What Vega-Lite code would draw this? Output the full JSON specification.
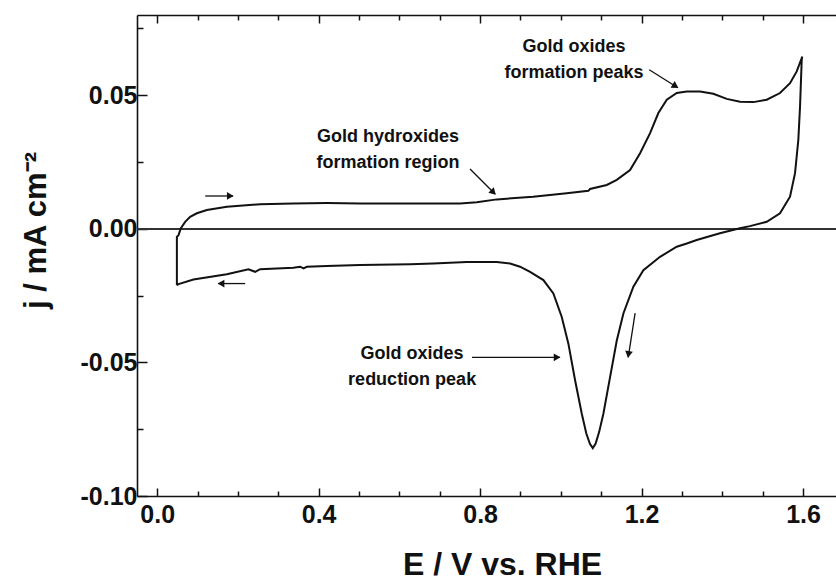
{
  "$schema": "https://vega.github.io/schema/vega-lite/v6.json",
  "autosize": "none",
  "width": 699,
  "height": 481,
  "padding": {"left": 137, "top": 15, "right": 0, "bottom": 85},
  "background": "white",
  "config": {
    "view": {"stroke": null},
    "font": "Liberation Sans",
    "axis": {
      "domainColor": "#111",
      "domainWidth": 1.6,
      "tickColor": "#111",
      "tickWidth": 1.5,
      "grid": false,
      "labelFont": "Liberation Sans",
      "labelFontWeight": "bold",
      "labelFontSize": 25,
      "labelColor": "#111",
      "titleFont": "Liberation Sans",
      "titleFontWeight": "bold",
      "titleColor": "#111",
      "labelFlush": false,
      "labelOverlap": false,
      "labelBound": false
    }
  },
  "datasets": {
    "cv": [
      {"i": 1, "E": 0.0488, "j": -0.0211},
      {"i": 2, "E": 0.0488, "j": -0.0030},
      {"i": 3, "E": 0.0528, "j": -0.0024},
      {"i": 4, "E": 0.0587, "j": 0.0002},
      {"i": 5, "E": 0.0693, "j": 0.0026},
      {"i": 6, "E": 0.0817, "j": 0.0045},
      {"i": 7, "E": 0.0983, "j": 0.0058},
      {"i": 8, "E": 0.1231, "j": 0.0070},
      {"i": 9, "E": 0.1726, "j": 0.0082},
      {"i": 10, "E": 0.2551, "j": 0.0092},
      {"i": 11, "E": 0.3376, "j": 0.0095},
      {"i": 12, "E": 0.4203, "j": 0.0096},
      {"i": 13, "E": 0.5028, "j": 0.0095},
      {"i": 14, "E": 0.6267, "j": 0.0095},
      {"i": 15, "E": 0.6836, "j": 0.0095},
      {"i": 16, "E": 0.7505, "j": 0.0095},
      {"i": 17, "E": 0.7918, "j": 0.0099},
      {"i": 18, "E": 0.8414, "j": 0.0110},
      {"i": 19, "E": 0.9313, "j": 0.0120},
      {"i": 20, "E": 1.0147, "j": 0.0133},
      {"i": 21, "E": 1.0682, "j": 0.0142},
      {"i": 22, "E": 1.0724, "j": 0.0149},
      {"i": 23, "E": 1.1138, "j": 0.0164},
      {"i": 24, "E": 1.1386, "j": 0.0183},
      {"i": 25, "E": 1.1715, "j": 0.0220},
      {"i": 26, "E": 1.1963, "j": 0.0283},
      {"i": 27, "E": 1.2211, "j": 0.0358},
      {"i": 28, "E": 1.2416, "j": 0.0433},
      {"i": 29, "E": 1.2625, "j": 0.0483},
      {"i": 30, "E": 1.2872, "j": 0.0508},
      {"i": 31, "E": 1.3120, "j": 0.0514},
      {"i": 32, "E": 1.3449, "j": 0.0514},
      {"i": 33, "E": 1.3778, "j": 0.0505},
      {"i": 34, "E": 1.4110, "j": 0.0486},
      {"i": 35, "E": 1.4440, "j": 0.0475},
      {"i": 36, "E": 1.4769, "j": 0.0474},
      {"i": 37, "E": 1.5101, "j": 0.0483},
      {"i": 38, "E": 1.5430, "j": 0.0508},
      {"i": 39, "E": 1.5678, "j": 0.0545},
      {"i": 40, "E": 1.5844, "j": 0.0589},
      {"i": 41, "E": 1.5968, "j": 0.0639},
      {"i": 42, "E": 1.5980, "j": 0.0644},
      {"i": 43, "E": 1.5968, "j": 0.0633},
      {"i": 44, "E": 1.5926, "j": 0.0457},
      {"i": 45, "E": 1.5884, "j": 0.0333},
      {"i": 46, "E": 1.5802, "j": 0.0208},
      {"i": 47, "E": 1.5678, "j": 0.0120},
      {"i": 48, "E": 1.5430, "j": 0.0058},
      {"i": 49, "E": 1.5101, "j": 0.0026},
      {"i": 50, "E": 1.4684, "j": 0.0010},
      {"i": 51, "E": 1.4436, "j": 0.0002},
      {"i": 52, "E": 1.3941, "j": -0.0017},
      {"i": 53, "E": 1.3367, "j": -0.0042},
      {"i": 54, "E": 1.3120, "j": -0.0055},
      {"i": 55, "E": 1.2872, "j": -0.0067},
      {"i": 56, "E": 1.2458, "j": -0.0105},
      {"i": 57, "E": 1.2045, "j": -0.0155},
      {"i": 58, "E": 1.1797, "j": -0.0217},
      {"i": 59, "E": 1.1550, "j": -0.0317},
      {"i": 60, "E": 1.1386, "j": -0.0418},
      {"i": 61, "E": 1.1220, "j": -0.0555},
      {"i": 62, "E": 1.1054, "j": -0.0692},
      {"i": 63, "E": 1.0950, "j": -0.0760},
      {"i": 64, "E": 1.0860, "j": -0.0805},
      {"i": 65, "E": 1.0791, "j": -0.0821},
      {"i": 66, "E": 1.0720, "j": -0.0805},
      {"i": 67, "E": 1.0630, "j": -0.0765},
      {"i": 68, "E": 1.0519, "j": -0.0692},
      {"i": 69, "E": 1.0353, "j": -0.0567},
      {"i": 70, "E": 1.0187, "j": -0.0430},
      {"i": 71, "E": 1.0023, "j": -0.0330},
      {"i": 72, "E": 0.9815, "j": -0.0242},
      {"i": 73, "E": 0.9568, "j": -0.0192},
      {"i": 74, "E": 0.9238, "j": -0.0161},
      {"i": 75, "E": 0.8990, "j": -0.0142},
      {"i": 76, "E": 0.8743, "j": -0.0130},
      {"i": 77, "E": 0.8414, "j": -0.0124},
      {"i": 78, "E": 0.7671, "j": -0.0124},
      {"i": 79, "E": 0.6836, "j": -0.0130},
      {"i": 80, "E": 0.6267, "j": -0.0133},
      {"i": 81, "E": 0.5028, "j": -0.0136},
      {"i": 82, "E": 0.4203, "j": -0.0139},
      {"i": 83, "E": 0.3708, "j": -0.0142},
      {"i": 84, "E": 0.3624, "j": -0.0148},
      {"i": 85, "E": 0.3542, "j": -0.0142},
      {"i": 86, "E": 0.3376, "j": -0.0146},
      {"i": 87, "E": 0.2551, "j": -0.0151},
      {"i": 88, "E": 0.2427, "j": -0.0161},
      {"i": 89, "E": 0.2261, "j": -0.0152},
      {"i": 90, "E": 0.1726, "j": -0.0170},
      {"i": 91, "E": 0.0899, "j": -0.0190},
      {"i": 92, "E": 0.0528, "j": -0.0207},
      {"i": 93, "E": 0.0488, "j": -0.0211}
    ],
    "arrows": [
      {"x": 0.119, "y": 0.01227, "x2": 0.188, "y2": 0.01227, "hx": 0.1783, "hy": 0.01227, "angle": 90},
      {"x": 0.218, "y": -0.0205, "x2": 0.151, "y2": -0.0205, "hx": 0.161, "hy": -0.0205, "angle": 270},
      {"x": 0.775, "y": 0.0224, "x2": 0.837, "y2": 0.0130, "hx": 0.831, "hy": 0.0139, "angle": 135},
      {"x": 1.219, "y": 0.0595, "x2": 1.290, "y2": 0.0528, "hx": 1.2817, "hy": 0.0536, "angle": 122},
      {"x": 0.780, "y": -0.0481, "x2": 0.998, "y2": -0.0481, "hx": 0.988, "hy": -0.0481, "angle": 90},
      {"x": 1.184, "y": -0.0316, "x2": 1.167, "y2": -0.0481, "hx": 1.168, "hy": -0.0466, "angle": 189}
    ],
    "notes": [
      {"x": 1.0328, "y": 0.0663, "label": "Gold oxides\nformation peaks"},
      {"x": 0.5721, "y": 0.0326, "label": "Gold hydroxides\nformation region"},
      {"x": 0.6316, "y": -0.0489, "label": "Gold oxides\nreduction peak"}
    ]
  },
  "resolve": {"axis": {"x": "independent", "y": "independent"}},
  "layer": [
    {
      "data": {"name": "cv"},
      "mark": {"type": "rule", "color": "#333", "strokeWidth": 1.5},
      "encoding": {
        "y": {"datum": 0, "type": "quantitative", "axis": null}
      }
    },
    {
      "data": {"name": "cv"},
      "mark": {"type": "line", "color": "#111", "strokeWidth": 2},
      "encoding": {
        "x": {
          "field": "E", "type": "quantitative",
          "scale": {"domain": [-0.05, 1.6817], "nice": false, "zero": false},
          "axis": {
            "orient": "bottom",
            "values": [0, 0.4, 0.8, 1.2, 1.6],
            "format": ".1f",
            "tickSize": -8,
            "labelPadding": 14,
            "title": "E / V vs. RHE",
            "titleFontSize": 32,
            "titleAlign": "center",
            "titleBaseline": "alphabetic",
            "titleX": 365,
            "titleY": 78
          }
        },
        "y": {
          "field": "j", "type": "quantitative",
          "scale": {"domain": [-0.1, 0.08], "nice": false, "zero": false},
          "axis": {
            "orient": "left",
            "values": [-0.1, -0.05, 0, 0.05],
            "labelExpr": "replace(format(datum.value, '.2f'), '\u2212', '-')",
            "tickSize": -10,
            "labelPadding": 10,
            "title": "j / mA cm\u207B\u00B2",
            "titleFontSize": 31,
            "titleAngle": -90,
            "titleAlign": "center",
            "titleBaseline": "alphabetic",
            "titleX": -92,
            "titleY": 215
          }
        },
        "order": {"field": "i", "type": "quantitative"}
      }
    },
    {
      "data": {"name": "arrows"},
      "mark": {"type": "rule", "color": "#111", "strokeWidth": 1.3},
      "encoding": {
        "x": {"field": "x", "type": "quantitative",
          "axis": {"orient": "bottom", "values": [0.1, 0.2, 0.3, 0.5, 0.6, 0.7, 0.9, 1.0, 1.1, 1.3, 1.4, 1.5], "labels": false, "title": null, "domain": false, "tickSize": -5}},
        "y": {"field": "y", "type": "quantitative",
          "axis": {"orient": "left", "values": [-0.075, -0.025, 0.025, 0.075], "labels": false, "title": null, "domain": false, "tickSize": -6}},
        "x2": {"field": "x2"},
        "y2": {"field": "y2"}
      }
    },
    {
      "data": {"name": "arrows"},
      "mark": {"type": "point", "shape": "triangle", "filled": true, "color": "#111", "size": 60, "opacity": 1},
      "encoding": {
        "x": {"field": "hx", "type": "quantitative",
          "axis": {"orient": "top", "values": [0, 0.4, 0.8, 1.2, 1.6], "labels": false, "title": null, "tickSize": -8}},
        "y": {"field": "hy", "type": "quantitative", "axis": null},
        "angle": {"field": "angle", "type": "quantitative", "scale": null}
      }
    },
    {
      "data": {"name": "notes"},
      "mark": {"type": "text", "font": "Liberation Sans", "fontWeight": "bold", "fontSize": 18, "align": "center", "baseline": "alphabetic", "lineBreak": "\n", "lineHeight": 26, "color": "#111"},
      "encoding": {
        "x": {
          "field": "x", "type": "quantitative",
          "axis": {"orient": "top", "values": [0.1, 0.2, 0.3, 0.5, 0.6, 0.7, 0.9, 1.0, 1.1, 1.3, 1.4, 1.5], "labels": false, "title": null, "domain": false, "tickSize": -5}
        },
        "y": {"field": "y", "type": "quantitative", "axis": null},
        "text": {"field": "label"}
      }
    }
  ]
}
